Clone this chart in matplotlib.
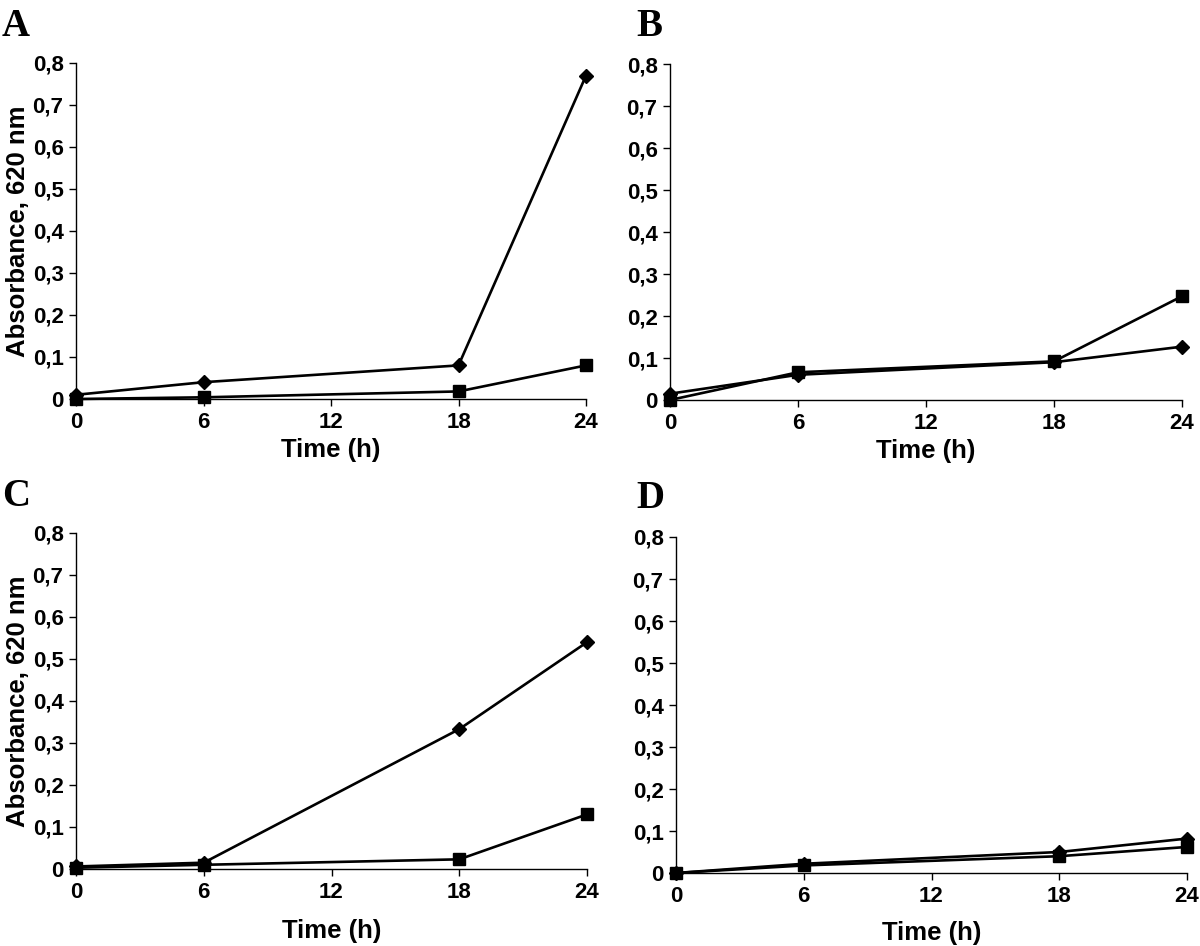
import matplotlib
matplotlib.use("Agg")
import matplotlib.pyplot as plt
from matplotlib.ticker import FixedLocator

hours = [0, 6, 18, 24]
x_ticks = [0, 6, 12, 18, 24]
y_ticks = [0, 0.1, 0.2, 0.3, 0.4, 0.5, 0.6, 0.7, 0.8]
y_tick_labels = ["0", "0,1", "0,2", "0,3", "0,4", "0,5", "0,6", "0,7", "0,8"]

panel_letters = ["A", "B", "C", "D"]
diamond_A = [0.010, 0.040, 0.080, 0.770]
square_A = [0.000, 0.004, 0.018, 0.080]
diamond_B = [0.015, 0.060, 0.090, 0.127]
square_B = [0.000, 0.066, 0.092, 0.247]
diamond_C = [0.006, 0.015, 0.333, 0.540]
square_C = [0.003, 0.010, 0.023, 0.130]
diamond_D = [0.000, 0.022, 0.050, 0.082]
square_D = [0.000, 0.018, 0.040, 0.062]

diamonds = [diamond_A, diamond_B, diamond_C, diamond_D]
squares = [square_A, square_B, square_C, square_D]

W, H = 1200, 946
fig = plt.figure(figsize=(W / 100, H / 100), dpi=100)

# axes boxes in pixels: left, right, y(0), y(0.8)
boxes = [(76, 586, 399, 63), (670, 1182, 400, 64),
         (76, 587, 869, 533), (676, 1187, 873, 537)]
xlabel_pads = [4, 4, 12, 10.5]
letter_pos = [(2, 36), (636, 36), (2, 506), (636, 508)]

sans = "Liberation Sans"
for i, (l, r, y0, y8) in enumerate(boxes):
    ax = fig.add_axes([l / W, 1 - y0 / H, (r - l) / W, (y0 - y8) / H])
    ax.plot(hours, diamonds[i], color="black", lw=1.9, marker="D", ms=7.5,
            mfc="black", mec="black", clip_on=False, zorder=3)
    ax.plot(hours, squares[i], color="black", lw=1.9, marker="s", ms=8,
            mfc="black", mec="black", clip_on=False, zorder=3)
    ax.set_xlim(0, 24)
    ax.set_ylim(0, 0.8)
    ax.xaxis.set_major_locator(FixedLocator(x_ticks))
    ax.yaxis.set_major_locator(FixedLocator(y_ticks))
    ax.set_yticklabels(y_tick_labels)
    ax.set_xticklabels([str(t) for t in x_ticks])
    for s in ["top", "right"]:
        ax.spines[s].set_visible(False)
    for s in ["left", "bottom"]:
        ax.spines[s].set_linewidth(1.0)
    ax.tick_params(direction="out", length=5, width=1.0, pad=4)
    for lab in ax.get_xticklabels() + ax.get_yticklabels():
        lab.set_fontfamily(sans)
        lab.set_fontweight("bold")
        lab.set_fontsize(16)
    ax.set_xlabel("Time (h)", fontfamily=sans, fontweight="bold", fontsize=18.5,
                  labelpad=xlabel_pads[i])
    if i in (0, 2):
        ax.set_ylabel("Absorbance, 620 nm", fontfamily=sans, fontweight="bold",
                      fontsize=18.5, labelpad=2)
    lx, ly = letter_pos[i]
    fig.text(lx / W, 1 - ly / H, panel_letters[i], fontfamily="Liberation Serif",
             fontweight="bold", fontsize=28, ha="left", va="baseline")

fig.savefig("out.png", dpi=100)
